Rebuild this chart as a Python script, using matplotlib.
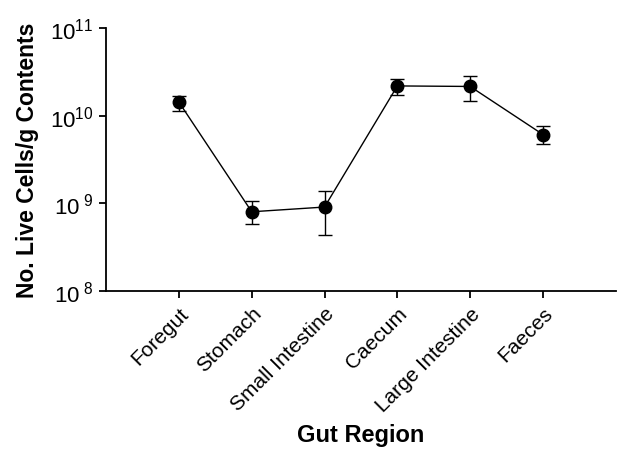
import matplotlib
matplotlib.use("Agg")
import matplotlib.pyplot as plt
import numpy as np

plt.rcParams['font.family'] = ['Liberation Sans', 'DejaVu Sans']
plt.rcParams['mathtext.fontset'] = 'custom'
plt.rcParams['mathtext.rm'] = 'Liberation Sans'
plt.rcParams['mathtext.it'] = 'Liberation Sans'

regions = ["Foregut", "Stomach", "Small Intestine", "Caecum", "Large Intestine", "Faeces"]
counts = [1.43e10, 8.0e8, 9.06e8, 2.19e10, 2.16e10, 6.1e9]
err_top = [1.66e10, 1.05e9, 1.37e9, 2.62e10, 2.85e10, 7.6e9]
err_bottom = [1.12e10, 5.8e8, 4.4e8, 1.72e10, 1.48e10, 4.8e9]

counts = np.array(counts)
lower = counts - np.array(err_bottom)
upper = np.array(err_top) - counts

fig = plt.figure(figsize=(6.17, 4.56), dpi=100)
ax = fig.add_axes([0.172, 0.360, 0.826, 0.576])

x = np.arange(len(regions))
ax.errorbar(x, counts, yerr=[lower, upper], fmt='o-', color='black',
            markersize=9, linewidth=1, elinewidth=1, capsize=5, capthick=1)

ax.set_yscale('log')
ax.set_ylim(1e8, 1e11)
ax.set_yticks([1e8, 1e9, 1e10, 1e11])
ax.set_yticklabels([r'$10^{\ 8}$', r'$10^{\ 9}$', r'$10^{10}$', r'$10^{11}$'], fontsize=16)
ax.yaxis.set_minor_locator(matplotlib.ticker.NullLocator())
ax.set_xlim(-1, 6)
ax.set_xticks(x)
ax.set_xticklabels(regions, rotation=45, ha='right', rotation_mode='anchor', fontsize=15)

for s in ['top', 'right']:
    ax.spines[s].set_visible(False)
for s in ['left', 'bottom']:
    ax.spines[s].set_linewidth(1.3)
ax.tick_params(direction='out', length=5, width=1.3, pad=4)

ax.set_ylabel('No. Live Cells/g Contents', fontsize=16.5, fontweight='bold', labelpad=8)
ax.set_xlabel('Gut Region', fontsize=17, fontweight='bold', labelpad=6)

fig.savefig('out.png', dpi=100)
